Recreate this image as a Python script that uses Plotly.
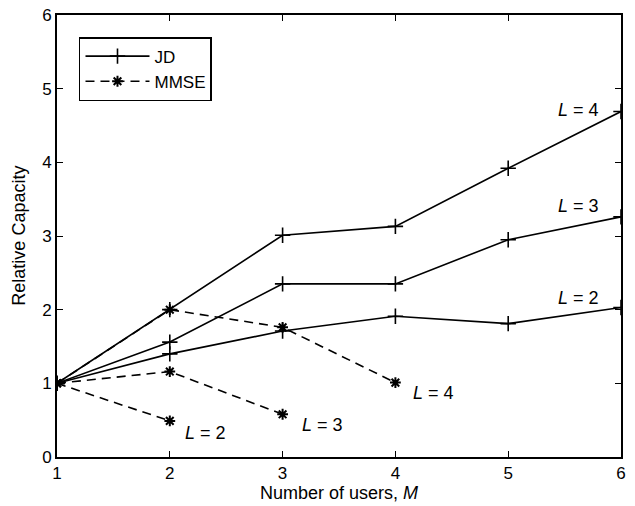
import plotly.graph_objects as go

users = [1, 2, 3, 4, 5, 6]
jd_L2 = [1.0, 1.40, 1.71, 1.91, 1.81, 2.03]
jd_L3 = [1.0, 1.56, 2.35, 2.35, 2.95, 3.26]
jd_L4 = [1.0, 2.0, 3.01, 3.13, 3.92, 4.69]
mmse_L2 = [1.0, 0.49]
mmse_L3 = [1.0, 1.16, 0.58]
mmse_L4 = [1.0, 2.0, 1.76, 1.01]

jd_labels = ["L=2", "L=3", "L=4"]
jd_label_pos = [(5.62, 2.16), (5.62, 3.41), (5.62, 4.71)]
mmse_label_pos = [(2.32, 0.33), (3.35, 0.44), (4.34, 0.87)]

FONT = "Liberation Sans, Arial, sans-serif"
fig = go.Figure()

for i, ys in enumerate([jd_L2, jd_L3, jd_L4]):
    fig.add_trace(go.Scatter(
        x=users[:len(ys)], y=ys, mode="lines+markers", name="JD",
        legendgroup="JD", showlegend=(i == 0),
        line=dict(color="black", width=1.6),
        marker=dict(symbol="cross-thin-open", size=11, color="black",
                    line=dict(color="black", width=1.6)),
    ))
for i, ys in enumerate([mmse_L2, mmse_L3, mmse_L4]):
    fig.add_trace(go.Scatter(
        x=users[:len(ys)], y=ys, mode="lines+markers", name="MMSE",
        legendgroup="MMSE", showlegend=(i == 0),
        line=dict(color="black", width=1.6, dash="9px,6px"),
        marker=dict(symbol="asterisk-open", size=9, color="black",
                    line=dict(color="black", width=2)),
    ))

def ltext(lbl):
    return "<i>L</i> = " + lbl.split("=")[1]

for lbl, (x, y) in zip(jd_labels, jd_label_pos):
    fig.add_annotation(x=x, y=y, text=ltext(lbl), showarrow=False,
                       font=dict(family=FONT, size=18, color="black"))
for lbl, (x, y) in zip(jd_labels, mmse_label_pos):
    fig.add_annotation(x=x, y=y, text=ltext(lbl), showarrow=False,
                       font=dict(family=FONT, size=18, color="black"))

# axis titles
fig.add_annotation(xref="paper", yref="paper", x=0.5, y=-0.081, yanchor="middle",
                   text="Number of users, <i>M</i>", showarrow=False,
                   font=dict(family=FONT, size=18, color="black"))
fig.add_annotation(xref="paper", yref="paper", x=-0.068, y=0.5, xanchor="center",
                   text="Relative Capacity", showarrow=False, textangle=-90,
                   font=dict(family=FONT, size=18, color="black"))

axis_common = dict(
    showgrid=False, zeroline=False, showline=True, linecolor="black",
    linewidth=2, mirror="ticks", ticks="inside", ticklen=6, tickwidth=1,
    tickcolor="black", tickfont=dict(family=FONT, size=17, color="black"),
    automargin=False,
)
fig.update_xaxes(range=[1, 6], tickvals=users, **axis_common)
fig.update_yaxes(range=[0, 6], tickvals=[0, 1, 2, 3, 4, 5, 6], **axis_common)

fig.update_layout(
    width=635, height=506,
    margin=dict(l=57, r=14, t=15, b=49),
    paper_bgcolor="white", plot_bgcolor="white",
    showlegend=True,
    legend=dict(x=0.039, y=0.95, xanchor="left", yanchor="top",
                bordercolor="black", borderwidth=1.5, bgcolor="white",
                font=dict(family=FONT, size=17, color="black"),
                itemwidth=64, tracegroupgap=0),
)

fig.write_html("out.html")
